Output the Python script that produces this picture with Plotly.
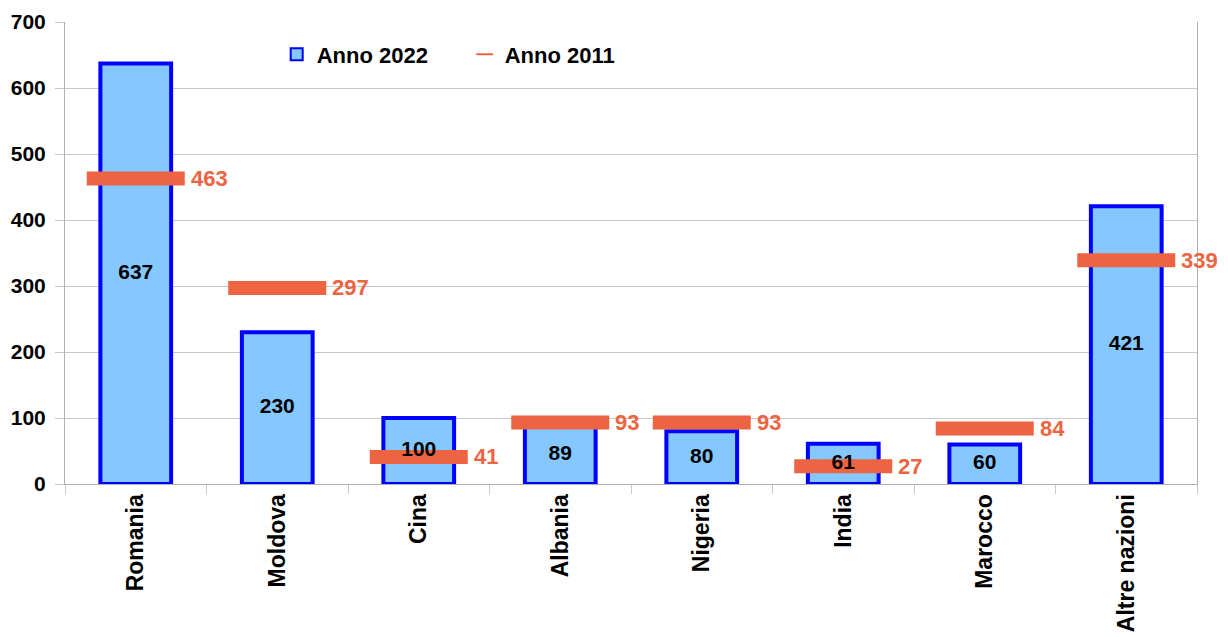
import plotly.graph_objects as go

categories = ["Romania", "Moldova", "Cina", "Albania", "Nigeria", "India", "Marocco", "Altre nazioni"]
anno_2022 = [637, 230, 100, 89, 80, 61, 60, 421]
anno_2011 = [463, 297, 41, 93, 93, 27, 84, 339]
y_ticks = [0, 100, 200, 300, 400, 500, 600, 700]

FONT = "Liberation Sans, Arial, sans-serif"
ORANGE = "#EC6441"

fig = go.Figure()
fig.add_trace(go.Bar(
    x=categories, y=anno_2022, name="Anno 2022", width=0.5,
    marker=dict(color="#85C8FF", line=dict(color="#0000FF", width=4)),
))
fig.add_trace(go.Scatter(
    x=categories, y=anno_2011, name="Anno 2011", mode="markers",
    marker=dict(symbol="line-ew", size=70, color=ORANGE, line=dict(color=ORANGE, width=14)),
    cliponaxis=False,
))
# bar value labels drawn on top of the 2011 markers
fig.add_trace(go.Scatter(
    x=categories, y=[v / 2 for v in anno_2022], mode="text", showlegend=False,
    text=[str(v) for v in anno_2022], textposition="middle center",
    textfont=dict(family=FONT, size=21, color="black", weight="bold"),
    cliponaxis=False, hoverinfo="skip",
))

for c, v in zip(categories, anno_2011):
    fig.add_annotation(
        x=c, y=v, text=str(v), showarrow=False, xanchor="left", yanchor="middle",
        xshift=53, font=dict(family=FONT, size=22, color=ORANGE, weight="bold"),
    )

fig.update_layout(
    width=1228, height=637,
    margin=dict(l=57, r=39, t=14, b=161, autoexpand=False),
    plot_bgcolor="white", paper_bgcolor="white",
    font=dict(family=FONT, color="black"),
    showlegend=True,
    legend=dict(orientation="h", x=0.187, y=0.93, xanchor="left", yanchor="middle",
                font=dict(family=FONT, size=22, color="black", weight="bold"),
                bgcolor="rgba(0,0,0,0)", itemwidth=30, itemsizing="constant",
                entrywidth=143, entrywidthmode="pixels"),
)
fig.update_yaxes(
    range=[0, 700], tickvals=y_ticks, showgrid=True, gridcolor="#C8C8C8", gridwidth=1,
    showline=True, linecolor="#B0B0B0", mirror=True, ticks="outside", ticklen=9,
    tickcolor="#C8C8C8", tickfont=dict(family=FONT, size=21, color="black", weight="bold"),
    zeroline=False, automargin=False, ticklabeloverflow="allow", ticklabelstandoff=5,
)
fig.update_xaxes(
    range=[-0.5, 7.5],
    tickangle=-90, ticks="outside", tickson="boundaries", ticklen=9, tickcolor="#C8C8C8",
    showline=True, linecolor="#B0B0B0", automargin=False, ticklabeloverflow="allow",
    tickfont=dict(family=FONT, size=23, color="black", weight="bold"),
)

fig.write_html("out.html")
